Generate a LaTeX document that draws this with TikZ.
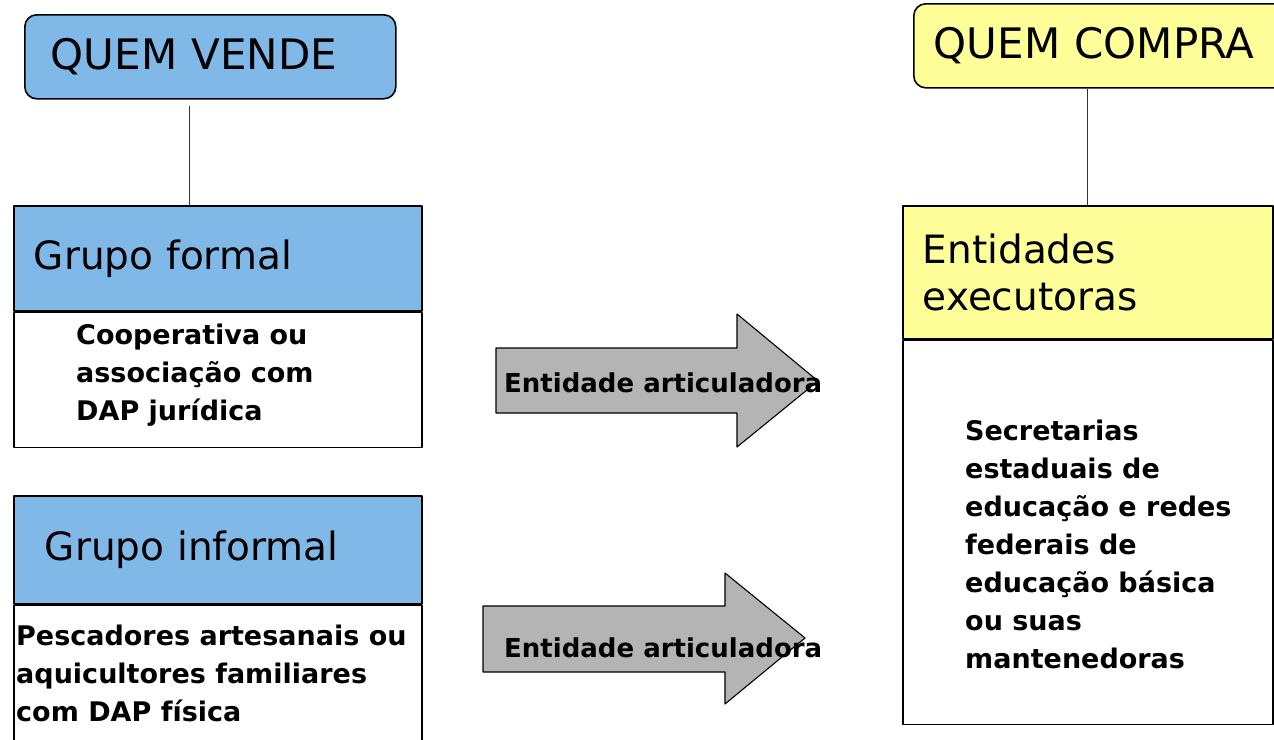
\documentclass[tikz,border=0pt]{standalone}
\usepackage{fontspec}
\setmainfont{DejaVu Sans}
\usetikzlibrary{positioning}
\definecolor{vendeblue}{RGB}{128,184,232}
\definecolor{compraylw}{RGB}{255,255,153}
\definecolor{setagray}{RGB}{180,180,180}
\begin{document}
\begin{tikzpicture}[x=1pt,y=-1pt, line join=round,
	titulo/.style={draw, line width=1.6pt, rounded corners=12pt, anchor=north west, inner ysep=0pt, align=left, minimum height=84pt, font=\fontsize{42}{48}\selectfont},
	cabec/.style={draw, line width=1.6pt, anchor=north west, inner ysep=0pt, align=left, font=\fontsize{39}{47}\selectfont},
	corpo/.style={draw, line width=1.6pt, fill=white, anchor=north west, inner sep=0pt},
	texto/.style={anchor=base west, inner sep=0pt, align=left, font=\bfseries\fontsize{27}{38}\selectfont},
	seta/.style={draw, line width=1.1pt, fill=setagray},
	liga/.style={draw, line width=0.7pt, black!80}]
	\useasboundingbox (0,0) rectangle (1274,739);
	% quem vende
	\node[titulo, fill=vendeblue, inner xsep=26pt, text width=319pt] (vende) at (24,14) {QUEM VENDE};
	\node[cabec, fill=vendeblue, minimum height=105pt, inner xsep=20pt, text width=368pt] (formal) at (13,205) {Grupo formal};
	\node[corpo, minimum width=408pt, minimum height=135pt] (formalcorpo) at (formal.south west) {};
	% base = last line
	\node[texto] (formaltxt) at (76,420) {Cooperativa ou\\associação com\\DAP jurídica};
	\node[cabec, fill=vendeblue, minimum height=108pt, inner xsep=31pt, text width=346pt] (informal) at (13,495) {Grupo informal};
	\node[corpo, minimum width=408pt, minimum height=150pt] (informalcorpo) at (informal.south west) {};
	\node[texto] (informaltxt) at (16,721) {Pescadores artesanais ou\\aquicultores familiares\\com DAP física};
	\path (189,106) coordinate (v1);
	\draw[liga] (v1) -- (v1 |- formal.north);
	% quem compra
	\node[titulo, fill=compraylw, inner xsep=20pt, text width=337pt] (compra) at (913,3) {QUEM COMPRA};
	\node[cabec, fill=compraylw, minimum height=133pt, inner xsep=20pt, text width=330pt] (entidades) at (902,205) {Entidades\\executoras};
	\node[corpo, minimum width=370pt, minimum height=384pt] (entidadescorpo) at (entidades.south west) {};
	\node[texto] (entidadestxt) at (965,668) {Secretarias\\estaduais de\\educação e redes\\federais de\\educação básica\\ou suas\\mantenedoras};
	\path (1087,0) coordinate (c1);
	\draw[liga] (compra.south -| c1) -- (c1 |- entidades.north);
	% setas
	\path
	(496,348) coordinate (A1) (737,348) coordinate (B1) (737,314) coordinate (C1) (818,381) coordinate (D1)
	(737,447) coordinate (E1) (737,413) coordinate (F1) (496,413) coordinate (G1)
	(483,606) coordinate (A2) (725,606) coordinate (B2) (725,573) coordinate (C2) (805,638) coordinate (D2)
	(725,704) coordinate (E2) (725,672) coordinate (F2) (483,672) coordinate (G2)
	;
	\draw[seta] (A1)--(B1)--(C1)--(D1)--(E1)--(F1)--(G1)--cycle;
	\draw[seta] (A2)--(B2)--(C2)--(D2)--(E2)--(F2)--(G2)--cycle;
	\node[texto, font=\bfseries\fontsize{26}{38}\selectfont] (seta1txt) at (504,392) {Entidade articuladora};
	\node[texto, font=\bfseries\fontsize{26}{38}\selectfont] (seta2txt) at (504,657) {Entidade articuladora};
\end{tikzpicture}
\end{document}
